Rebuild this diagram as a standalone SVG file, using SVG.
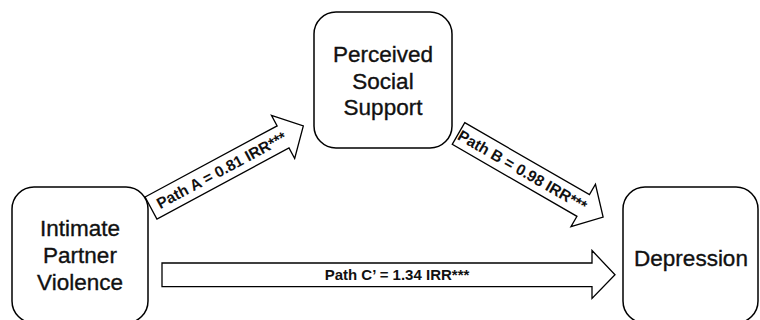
<svg xmlns="http://www.w3.org/2000/svg" width="760" height="320" viewBox="0 0 760 320">
<style>
.box{fill:#fff;stroke:#000;stroke-width:1.5}
.arr{fill:#fff;stroke:#000;stroke-width:1.3;stroke-linejoin:miter}
.nt{font-family:"Liberation Sans",Arial,sans-serif;font-size:22.5px;fill:#111;stroke:#111;stroke-width:0.35;text-anchor:middle}
.lt{font-family:"Liberation Sans",Arial,sans-serif;font-weight:bold;fill:#111;text-anchor:middle}
</style>
<rect width="760" height="320" fill="#fff"/>
<g id="connectors">
  <g id="pathA" transform="translate(151,208) rotate(-28.3)">
    <polygon class="arr" points="0,-12.5 150,-12.5 150,-24.5 173,0 150,24.5 150,12.5 0,12.5"/>
    <text class="lt" x="80" y="5.5" font-size="15.5">Path A = 0.81 IRR***</text>
  </g>
  <g id="pathB" transform="translate(458.5,133.5) rotate(30)">
    <polygon class="arr" points="0,-12.5 144,-12.5 144,-24.5 167,0 144,24.5 144,12.5 0,12.5"/>
    <text class="lt" x="74" y="5.5" font-size="15.5">Path B = 0.98 IRR***</text>
  </g>
  <g id="pathC">
    <polygon class="arr" points="162,263 592,263 592,250.5 615,274.7 592,298.5 592,286.7 162,286.7"/>
    <text class="lt" x="397" y="280" font-size="15">Path C’ = 1.34 IRR***</text>
  </g>
</g>
<g id="ipv">
  <rect class="box" x="12" y="187" width="136" height="136" rx="22" ry="22"/>
  <text class="nt" x="80" y="236">Intimate</text>
  <text class="nt" x="80" y="263">Partner</text>
  <text class="nt" x="80" y="290">Violence</text>
</g>
<g id="pss">
  <rect class="box" x="314" y="12" width="138" height="136" rx="22" ry="22"/>
  <text class="nt" x="383" y="62">Perceived</text>
  <text class="nt" x="383" y="88.5">Social</text>
  <text class="nt" x="383" y="115">Support</text>
</g>
<g id="depression">
  <rect class="box" x="623" y="187" width="135" height="136" rx="22" ry="22"/>
  <text class="nt" x="691" y="266">Depression</text>
</g>
</svg>
